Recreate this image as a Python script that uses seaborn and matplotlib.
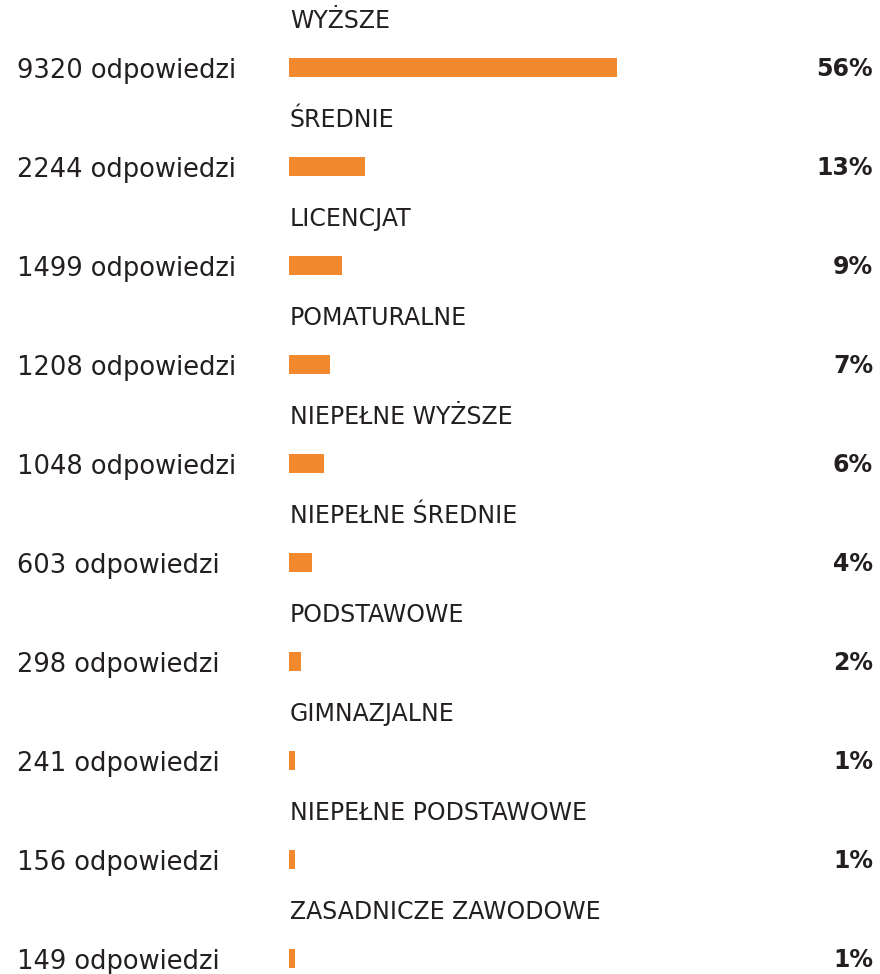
import matplotlib
matplotlib.use("Agg")
import matplotlib.pyplot as plt
import matplotlib.transforms as mtransforms
import pandas as pd
import seaborn as sns

categories = ["WYŻSZE", "ŚREDNIE", "LICENCJAT", "POMATURALNE", "NIEPEŁNE WYŻSZE",
              "NIEPEŁNE ŚREDNIE", "PODSTAWOWE", "GIMNAZJALNE",
              "NIEPEŁNE PODSTAWOWE", "ZASADNICZE ZAWODOWE"]
counts = [9320, 2244, 1499, 1208, 1048, 603, 298, 241, 156, 149]
percents = [56, 13, 9, 7, 6, 4, 2, 1, 1, 1]

df = pd.DataFrame({"cat": categories, "pct": percents, "n": counts})

sns.set_theme(style="white")
plt.rcParams["font.family"] = ["DejaVu Sans"]

W, H = 880, 974
fig = plt.figure(figsize=(W / 100, H / 100), dpi=100)
x0, x1 = 289, 873
ax = fig.add_axes([x0 / W, 0, (x1 - x0) / W, 1])

sns.barplot(data=df, y="cat", x="pct", orient="h", color="#F3892F",
            saturation=1, width=0.2, linewidth=0, ax=ax)

pitch = 99.0
top = 67.5
ax.set_ylim(9 + (H - top - 9 * pitch) / pitch, -top / pitch)
ax.set_xlim(0, (x1 - x0) / 5.857)
ax.axis("off")

txt = "#231f20"
left_tr = mtransforms.blended_transform_factory(fig.transFigure, ax.transData)
for i, (c, p, n) in enumerate(zip(categories, percents, counts)):
    ax.text(0.0015, i - 0.47, c, ha="left", va="center", fontsize=17, color=txt,
            transform=ax.get_yaxis_transform())
    ax.text(1.0, i + 0.02, f"{p}%", ha="right", va="center", fontsize=17,
            fontweight="bold", color=txt, transform=ax.get_yaxis_transform())
    ax.text(17 / W, i + 0.04, f"{n} odpowiedzi", ha="left", va="center",
            fontsize=18.5, color=txt, transform=left_tr)

fig.savefig("out.png", dpi=100)
